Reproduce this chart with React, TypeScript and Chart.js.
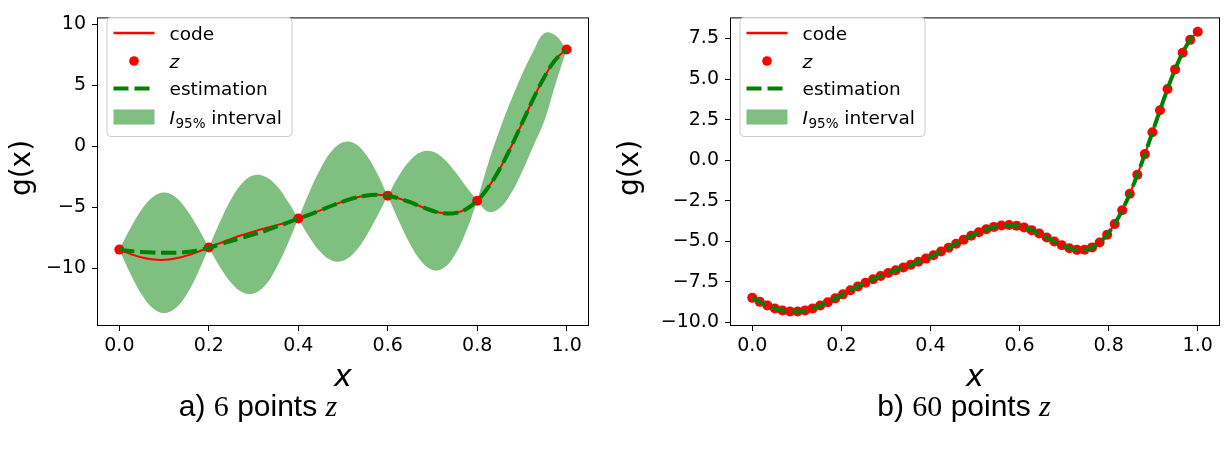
import React, { useEffect, useRef } from "react";
import { Chart, registerables } from "chart.js";

Chart.register(...registerables);

// ---------- data ----------
// 60 sample abscissae (x = 0 … 1)
const xGrid60 = [
  0.0, 0.0169, 0.0339, 0.0508, 0.0678, 0.0847, 0.1017, 0.1186, 0.1356, 0.1525,
  0.1695, 0.1864, 0.2034, 0.2203, 0.2373, 0.2542, 0.2712, 0.2881, 0.3051, 0.322,
  0.339, 0.3559, 0.3729, 0.3898, 0.4068, 0.4237, 0.4407, 0.4576, 0.4746, 0.4915,
  0.5085, 0.5254, 0.5424, 0.5593, 0.5763, 0.5932, 0.6102, 0.6271, 0.6441, 0.661,
  0.678, 0.6949, 0.7119, 0.7288, 0.7458, 0.7627, 0.7797, 0.7966, 0.8136, 0.8305,
  0.8475, 0.8644, 0.8814, 0.8983, 0.9153, 0.9322, 0.9492, 0.9661, 0.9831, 1.0,
];
// code g(x) read at those abscissae (also the 60 points z of panel b)
const code60 = [
  -8.486, -8.733, -8.957, -9.139, -9.265, -9.328, -9.325, -9.258, -9.134, -8.96,
  -8.751, -8.517, -8.27, -8.021, -7.779, -7.549, -7.335, -7.138, -6.954, -6.78,
  -6.61, -6.438, -6.258, -6.066, -5.857, -5.633, -5.394, -5.147, -4.898, -4.658,
  -4.439, -4.253, -4.111, -4.024, -3.999, -4.04, -4.146, -4.311, -4.522, -4.764,
  -5.012, -5.242, -5.423, -5.526, -5.518, -5.375, -5.072, -4.593, -3.929, -3.082,
  -2.065, -0.901, 0.375, 1.72, 3.079, 4.391, 5.595, 6.624, 7.416, 7.915,
];
// panel a: 6 points z
const zX6 = [0.0, 0.2, 0.4, 0.6, 0.8, 1.0];
const zY6 = [-8.486, -8.32, -5.943, -4.075, -4.475, 7.915];
// panel a: estimation and 95% interval on a 0.025 grid
const xGrid41 = [
  0.0, 0.025, 0.05, 0.075, 0.1, 0.125, 0.15, 0.175, 0.2, 0.225, 0.25, 0.275, 0.3, 0.325,
  0.35, 0.375, 0.4, 0.425, 0.45, 0.475, 0.5, 0.525, 0.55, 0.575, 0.6, 0.625, 0.65, 0.675,
  0.7, 0.725, 0.75, 0.775, 0.8, 0.825, 0.85, 0.875, 0.9, 0.925, 0.95, 0.975, 1.0,
];
const est41 = [
  -8.486, -8.6, -8.68, -8.73, -8.75, -8.74, -8.69, -8.55, -8.32, -8.06, -7.78, -7.5,
  -7.24, -6.97, -6.62, -6.3, -5.943, -5.615, -5.259, -4.892, -4.545, -4.257, -4.064,
  -3.999, -4.075, -4.287, -4.604, -4.969, -5.303, -5.511, -5.497, -5.172, -4.475,
  -3.377, -1.899, -0.114, 1.856, 3.842, 5.652, 7.074, 7.915,
];
const upper41 = [
  -8.486, -6.71, -5.19, -4.17, -3.81, -4.18, -5.2, -6.66, -8.32, -6.2, -4.35, -3.02,
  -2.39, -2.49, -3.19, -4.44, -5.943, -3.755, -1.829, -0.412, 0.305, 0.223, -0.634,
  -2.139, -4.075, -2.427, -1.174, -0.489, -0.453, -1.031, -2.067, -3.312, -4.475,
  -1.377, 1.301, 3.686, 5.856, 7.742, 9.252, 9.074, 7.915,
];
const lower41 = [
  -8.486, -10.49, -12.17, -13.29, -13.69, -13.3, -12.18, -10.44, -8.32, -9.92, -11.21,
  -11.98, -12.09, -11.45, -10.05, -8.16, -5.943, -7.475, -8.689, -9.372, -9.395, -8.737,
  -7.494, -5.859, -4.075, -6.147, -8.034, -9.449, -10.153, -9.991, -8.927, -7.032,
  -4.475, -5.377, -5.099, -3.914, -2.144, -0.058, 2.052, 5.074, 7.915,
];
// index ranges of the lobes between consecutive points z (on the 0.025 grid)
const lobeStarts = [0, 8, 16, 24, 32];
const lobeLen = 9;

// ticks
const xTicks = [0, 0.2, 0.4, 0.6, 0.8, 1.0];
const xTickLabels = ["0.0", "0.2", "0.4", "0.6", "0.8", "1.0"];
const yTicksA = [-10, -5, 0, 5, 10];
const yTickLabelsA = ["\u221210", "\u22125", "0", "5", "10"];
const yTicksB = [-10, -7.5, -5, -2.5, 0, 2.5, 5, 7.5];
const yTickLabelsB = ["\u221210.0", "\u22127.5", "\u22125.0", "\u22122.5", "0.0", "2.5", "5.0", "7.5"];

// text
const legendLabels = ["code", "z", "estimation", "I", "95%", "interval"];
const xTitle = "x";
const yTitle = "g(x)";
const captionA = ["a)", "6", "points", "z"];
const captionB = ["b)", "60", "points", "z"];

// ---------- styling ----------
const RED = "#ff0000";
const GREEN = "#008000";
const BAND = "rgba(0,128,0,0.5)";
const SANS = "DejaVu Sans";

const pts = (xs: number[], ys: number[]) => xs.map((x, i) => ({ x, y: ys[i] }));

function drawLegend(ctx: CanvasRenderingContext2D, x0: number, y0: number) {
  const w = 185, h = 119;
  ctx.save();
  ctx.beginPath();
  (ctx as any).roundRect(x0 + 0.5, y0 + 0.5, w, h, 4);
  ctx.fillStyle = "rgba(255,255,255,0.8)";
  ctx.fill();
  ctx.strokeStyle = "#cccccc";
  ctx.lineWidth = 1;
  ctx.stroke();

  const hx0 = x0 + 7, hx1 = x0 + 48, tx = x0 + 63;
  const rows = [y0 + 16, y0 + 44, y0 + 71.5, y0 + 100];

  ctx.strokeStyle = RED;
  ctx.lineWidth = 2.5;
  ctx.beginPath();
  ctx.moveTo(hx0, rows[0]);
  ctx.lineTo(hx1, rows[0]);
  ctx.stroke();

  ctx.fillStyle = RED;
  ctx.beginPath();
  ctx.arc((hx0 + hx1) / 2, rows[1], 4.8, 0, Math.PI * 2);
  ctx.fill();

  ctx.strokeStyle = GREEN;
  ctx.lineWidth = 4;
  ctx.setLineDash([15, 6]);
  ctx.beginPath();
  ctx.moveTo(hx0, rows[2]);
  ctx.lineTo(hx1, rows[2]);
  ctx.stroke();
  ctx.setLineDash([]);

  ctx.fillStyle = BAND;
  ctx.fillRect(hx0, rows[3] - 7.5, hx1 - hx0, 15);

  ctx.fillStyle = "#000";
  ctx.textAlign = "left";
  ctx.textBaseline = "alphabetic";
  const fs = 18.5;
  ctx.font = `${fs}px "${SANS}"`;
  ctx.fillText(legendLabels[0], tx, rows[0] + 6.5);
  ctx.font = `italic ${fs}px "${SANS}"`;
  ctx.fillText(legendLabels[1], tx, rows[1] + 6.5);
  ctx.font = `${fs}px "${SANS}"`;
  ctx.fillText(legendLabels[2], tx, rows[2] + 6.5);
  ctx.font = `italic ${fs}px "${SANS}"`;
  let cx = tx;
  ctx.fillText(legendLabels[3], cx, rows[3] + 6.5);
  cx += ctx.measureText(legendLabels[3]).width + 0.5;
  ctx.font = `13.5px "${SANS}"`;
  ctx.fillText(legendLabels[4], cx, rows[3] + 10.5);
  cx += ctx.measureText(legendLabels[4]).width;
  ctx.font = `${fs}px "${SANS}"`;
  cx += ctx.measureText(" ").width;
  ctx.fillText(legendLabels[5], cx, rows[3] + 6.5);
  ctx.restore();
}

type Spec = {
  datasets: any[];
  yMin: number;
  yMax: number;
  yTicks: number[];
  yTickLabels: string[];
  yAxisWidth: number;
  padRight: number;
  yTitleX: number;
};

function makeChart(canvas: HTMLCanvasElement, spec: Spec) {
  const decor = {
    id: "decor",
    afterDraw(chart: any) {
      const { ctx, chartArea: a } = chart;
      ctx.save();
      ctx.strokeStyle = "#000";
      ctx.lineWidth = 1;
      ctx.strokeRect(a.left + 0.5, a.top + 0.5, a.right - a.left - 1, a.bottom - a.top - 1);

      ctx.fillStyle = "#000";
      ctx.textAlign = "center";
      ctx.textBaseline = "middle";
      ctx.font = `italic 30px "${SANS}"`;
      ctx.fillText(xTitle, (a.left + a.right) / 2, 378);

      ctx.save();
      ctx.translate(spec.yTitleX, 168);
      ctx.rotate(-Math.PI / 2);
      ctx.font = `28px "${SANS}"`;
      ctx.fillText(yTitle, 0, 0);
      ctx.restore();
      ctx.restore();

      drawLegend(ctx, a.left + 9.5, 17);
    },
  };

  return new Chart(canvas, {
    type: "line",
    data: { datasets: spec.datasets },
    options: {
      animation: false,
      responsive: false,
      devicePixelRatio: 1,
      events: [],
      layout: { padding: { top: 7, right: spec.padRight, left: 0, bottom: 0 } },
      plugins: { legend: { display: false }, tooltip: { enabled: false }, title: { display: false } },
      scales: {
        x: {
          type: "linear",
          min: -0.05,
          max: 1.05,
          afterBuildTicks: (ax: any) => {
            ax.ticks = xTicks.map((v) => ({ value: v }));
          },
          afterFit: (s: any) => {
            s.height = 124;
          },
          ticks: {
            callback: (_v: any, i: number) => xTickLabels[i],
            font: { family: SANS, size: 19 },
            color: "#000",
            padding: 4,
            maxRotation: 0,
            autoSkip: false,
          },
          grid: { drawOnChartArea: false, drawTicks: true, tickLength: 5, color: "#000", lineWidth: 1 },
          border: { display: false },
        },
        y: {
          type: "linear",
          min: spec.yMin,
          max: spec.yMax,
          afterBuildTicks: (ax: any) => {
            ax.ticks = spec.yTicks.map((v) => ({ value: v }));
          },
          afterFit: (s: any) => {
            s.width = spec.yAxisWidth;
          },
          ticks: {
            callback: (_v: any, i: number) => spec.yTickLabels[i],
            font: { family: SANS, size: 19 },
            color: "#000",
            padding: 6,
            autoSkip: false,
          },
          grid: { drawOnChartArea: false, drawTicks: true, tickLength: 5, color: "#000", lineWidth: 1 },
          border: { display: false },
        },
      },
    } as any,
    plugins: [decor as any],
  });
}

const lineBase = { pointRadius: 0, fill: false };

function bandDatasets() {
  const out: any[] = [];
  lobeStarts.forEach((s, k) => {
    const xs = xGrid41.slice(s, s + lobeLen);
    out.push({
      label: `upper${k}`,
      data: pts(xs, upper41.slice(s, s + lobeLen)),
      pointRadius: 0,
      borderWidth: 0,
      borderColor: "rgba(0,0,0,0)",
      backgroundColor: BAND,
      fill: "+1",
      tension: 0.4,
      order: 10 + 2 * k,
    });
    out.push({
      label: `lower${k}`,
      data: pts(xs, lower41.slice(s, s + lobeLen)),
      pointRadius: 0,
      borderWidth: 0,
      borderColor: "rgba(0,0,0,0)",
      fill: false,
      tension: 0.4,
      order: 11 + 2 * k,
    });
  });
  return out;
}

export default function App() {
  const refA = useRef<HTMLCanvasElement>(null);
  const refB = useRef<HTMLCanvasElement>(null);

  useEffect(() => {
    const chartA = makeChart(refA.current!, {
      datasets: [
        { ...lineBase, label: "estimation", data: pts(xGrid41, est41), borderColor: GREEN, borderWidth: 4, borderDash: [15, 6], tension: 0.4, order: 0 },
        { label: "z", data: pts(zX6, zY6), showLine: false, pointRadius: 5, pointBorderWidth: 0, pointBackgroundColor: RED, pointBorderColor: RED, order: 1 },
        { ...lineBase, label: "code", data: pts(xGrid60, code60), borderColor: RED, borderWidth: 2, tension: 0.4, order: 2 },
        ...bandDatasets(),
      ],
      yMin: -14.75,
      yMax: 10.55,
      yTicks: yTicksA,
      yTickLabels: yTickLabelsA,
      yAxisWidth: 97,
      padRight: 21,
      yTitleX: 23,
    });
    const chartB = makeChart(refB.current!, {
      datasets: [
        { ...lineBase, label: "estimation", data: pts(xGrid60, code60), borderColor: GREEN, borderWidth: 4, borderDash: [15, 6], tension: 0.4, order: 0 },
        { label: "z", data: pts(xGrid60, code60), showLine: false, pointRadius: 5, pointBorderWidth: 0, pointBackgroundColor: RED, pointBorderColor: RED, order: 1 },
        { ...lineBase, label: "code", data: pts(xGrid60, code60), borderColor: RED, borderWidth: 2, tension: 0.4, order: 2 },
      ],
      yMin: -10.22,
      yMax: 8.8,
      yTicks: yTicksB,
      yTickLabels: yTickLabelsB,
      yAxisWidth: 120,
      padRight: 7,
      yTitleX: 21,
    });
    return () => {
      chartA.destroy();
      chartB.destroy();
    };
  }, []);

  const capStyle: React.CSSProperties = {
    position: "absolute",
    top: 390,
    transform: "translateX(-50%)",
    whiteSpace: "nowrap",
    fontFamily: '"Liberation Sans", Arial, sans-serif',
    fontSize: 30,
    lineHeight: "32px",
    color: "#000",
  };
  const serif: React.CSSProperties = { fontFamily: '"Liberation Serif", serif' };
  const serifIt: React.CSSProperties = { fontFamily: '"Liberation Serif", serif', fontStyle: "italic" };

  return (
    <div style={{ position: "absolute", left: 0, top: 0, width: 1227, height: 450, background: "#fff", overflow: "hidden" }}>
      <canvas ref={refA} width={610} height={450} style={{ position: "absolute", left: 0, top: 0, width: 610, height: 450 }} />
      <canvas ref={refB} width={617} height={450} style={{ position: "absolute", left: 610, top: 0, width: 617, height: 450 }} />
      <div style={{ ...capStyle, left: 258 }}>
        {captionA[0]} <span style={serif}>{captionA[1]}</span> {captionA[2]} <span style={serifIt}>{captionA[3]}</span>
      </div>
      <div style={{ ...capStyle, left: 964 }}>
        {captionB[0]} <span style={serif}>{captionB[1]}</span> {captionB[2]} <span style={serifIt}>{captionB[3]}</span>
      </div>
    </div>
  );
}
